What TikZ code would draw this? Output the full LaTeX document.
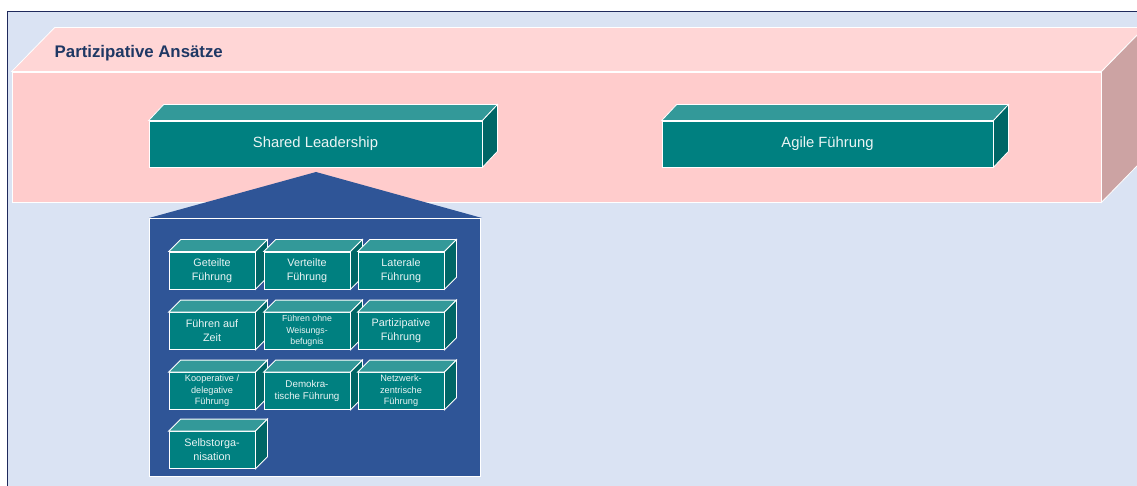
\documentclass[tikz,border=0pt]{standalone}
\usepackage{fontspec}
\setmainfont{Liberation Sans}
\usepackage{tikz}
\definecolor{bgblue}{HTML}{DAE3F3}
\definecolor{framenavy}{HTML}{1F2A5C}
\definecolor{titlenavy}{HTML}{1F3864}
\definecolor{pinkfront}{HTML}{FFCCCC}
\definecolor{pinktop}{HTML}{FFD6D6}
\definecolor{pinkside}{HTML}{CCA3A3}
\definecolor{tealfront}{HTML}{008080}
\definecolor{tealtop}{HTML}{339999}
\definecolor{tealside}{HTML}{006666}
\definecolor{housblue}{HTML}{2F5597}
\definecolor{textwhite}{HTML}{EAF4F4}
\newcommand{\boxfaces}[5]{%
	\filldraw[fill=#4,draw=white] (#1.north west) -- ++(#2,-#3) -- ([shift={(#2,-#3)}]#1.north east) -- (#1.north east) -- cycle;
	\filldraw[fill=#5,draw=white] (#1.north east) -- ++(#2,-#3) -- ([shift={(#2,-#3)}]#1.south east) -- (#1.south east) -- cycle;}
\tikzset{
	slab/.style={draw=white,fill=tealfront,text=textwhite,inner sep=0pt,minimum height=46,font=\fontsize{14.8}{17}\selectfont},
	cell/.style={draw=white,fill=tealfront,text=textwhite,align=center,inner sep=0pt,minimum width=86,minimum height=37}}

\begin{document}
\begin{tikzpicture}[x=1pt,y=-1pt,line width=0.8pt]
	\useasboundingbox (0,0) rectangle (1137,486);
	\fill[bgblue] (7,12) rectangle (1137,486);
	\draw[framenavy,line width=1pt] (7,486) -- (7,12) -- (1137,12);
	\node[draw=white,fill=pinkfront,inner sep=0pt,minimum width=1089,minimum height=130] (ansaetze) at (556.5,137) {};
	\boxfaces{ansaetze}{43}{44}{pinktop}{pinkside}
	\node[anchor=west,text=titlenavy,font=\bfseries\fontsize{16.8}{19}\selectfont] (titel) at (51,53) {Partizipative Ans\"atze};
	\node[slab,minimum width=333] (shared) at (315.5,144) {Shared Leadership};
	\boxfaces{shared}{15}{16}{tealtop}{tealside}
	\node[slab,minimum width=331] (agile) at (827.5,144) {Agile F\"uhrung};
	\boxfaces{agile}{15}{16}{tealtop}{tealside}
	\fill[housblue] (149,218) -- (316,172) -- (482,218) -- cycle;
	\filldraw[fill=housblue,draw=white] (149,218) rectangle (480,476);
	\foreach \n/\cx/\cy/\s/\l/\t in {
		geteilt/212/270.5/10.8/14/{Geteilte\\F\"uhrung},
		verteilt/307/270.5/10.8/14/{Verteilte\\F\"uhrung},
		lateral/401/270.5/10.8/14/{Laterale\\F\"uhrung},
		zeit/212/331/10.8/14/{F\"uhren auf\\Zeit},
		weisung/307/331/8.8/11.5/{F\"uhren ohne\\Weisungs-\\befugnis},
		partizip/401/331/10.8/14/{Partizipative\\F\"uhrung},
		koop/212/391/9.2/11.5/{Kooperative /\\delegative\\F\"uhrung},
		demo/307/391/9.8/12.5/{Demokra-\\tische F\"uhrung},
		netz/401/391/9.2/11.5/{Netzwerk-\\zentrische\\F\"uhrung},
		selbst/212/450/10.8/14/{Selbstorga-\\nisation}}{
		\node[cell,font=\fontsize{\s}{\l}\selectfont] (\n) at (\cx,\cy) {\t};
		\boxfaces{\n}{12}{12}{tealtop}{tealside}}
\end{tikzpicture}
\end{document}
